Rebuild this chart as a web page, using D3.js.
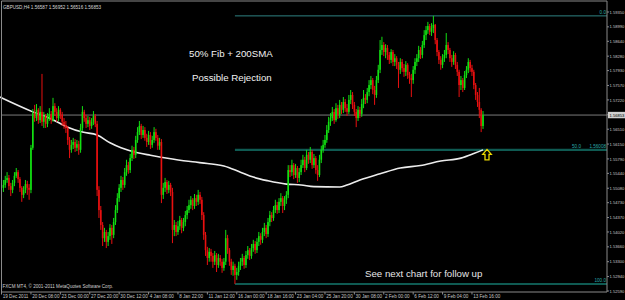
<!DOCTYPE html>
<html><head><meta charset="utf-8">
<script src="https://cdn.jsdelivr.net/npm/d3@7"></script>
<style>html,body{margin:0;padding:0;background:#000;overflow:hidden}</style>
</head><body>
<svg id="c" width="625" height="300"></svg>
<script>
// ---------- DATA ----------
const symbolTitle = "GBPUSD,H4";
const firstOpen = 1.5509;
const closes = [
1.5516,1.5528,1.5533,1.5513,1.5504,1.5521,1.5538,1.5547,1.5530,1.5509,
1.5492,1.5504,1.5518,1.5509,1.5504,1.5606,1.5690,1.5678,1.5698,1.5673,
1.5693,1.5669,1.5683,1.5664,1.5678,1.5688,1.5673,1.5707,1.5693,1.5678,
1.5698,1.5686,1.5669,1.5661,1.5654,1.5625,1.5601,1.5613,1.5620,1.5606,
1.5615,1.5601,1.5654,1.5693,1.5678,1.5664,1.5673,1.5659,1.5669,1.5683,
1.5664,1.5504,1.5455,1.5419,1.5387,1.5402,1.5378,1.5392,1.5412,1.5395,
1.5426,1.5455,1.5484,1.5509,1.5528,1.5516,1.5547,1.5564,1.5552,1.5581,
1.5601,1.5589,1.5625,1.5644,1.5659,1.5637,1.5649,1.5630,1.5620,1.5637,
1.5613,1.5625,1.5644,1.5630,1.5611,1.5620,1.5492,1.5509,1.5523,1.5504,
1.5516,1.5499,1.5407,1.5419,1.5402,1.5416,1.5431,1.5412,1.5426,1.5443,
1.5455,1.5467,1.5480,1.5465,1.5484,1.5475,1.5492,1.5480,1.5443,1.5395,
1.5358,1.5339,1.5354,1.5344,1.5330,1.5346,1.5322,1.5339,1.5330,1.5315,
1.5330,1.5387,1.5358,1.5330,1.5310,1.5320,1.5298,1.5305,1.5320,1.5330,
1.5339,1.5322,1.5346,1.5358,1.5344,1.5363,1.5373,1.5358,1.5378,1.5392,
1.5383,1.5402,1.5412,1.5397,1.5426,1.5443,1.5436,1.5455,1.5467,1.5455,
1.5475,1.5484,1.5465,1.5480,1.5492,1.5552,1.5547,1.5564,1.5540,1.5557,
1.5533,1.5547,1.5564,1.5577,1.5557,1.5589,1.5577,1.5596,1.5564,1.5581,
1.5552,1.5540,1.5577,1.5601,1.5613,1.5625,1.5649,1.5669,1.5678,1.5693,
1.5673,1.5702,1.5686,1.5710,1.5698,1.5717,1.5702,1.5693,1.5722,1.5734,
1.5710,1.5693,1.5678,1.5698,1.5688,1.5712,1.5727,1.5722,1.5741,1.5758,
1.5770,1.5746,1.5734,1.5770,1.5795,1.5843,1.5855,1.5838,1.5848,1.5831,
1.5819,1.5838,1.5814,1.5823,1.5807,1.5795,1.5814,1.5799,1.5790,1.5807,
1.5782,1.5775,1.5770,1.5795,1.5814,1.5823,1.5843,1.5831,1.5855,1.5879,
1.5891,1.5901,1.5887,1.5896,1.5904,1.5867,1.5838,1.5819,1.5807,1.5823,
1.5831,1.5855,1.5843,1.5823,1.5814,1.5831,1.5807,1.5790,1.5758,1.5770,
1.5751,1.5782,1.5795,1.5814,1.5799,1.5790,1.5758,1.5734,1.5717,1.5698,
1.56587,1.56853];
const highs = [
1.5528,1.5538,1.5547,1.5540,1.5521,1.5528,1.5547,1.5557,1.5552,1.5535,
1.5513,1.5513,1.5528,1.5526,1.5518,1.5613,1.5700,1.5710,1.5712,1.5702,
1.5707,1.5785,1.5693,1.5688,1.5690,1.5702,1.5695,1.5727,1.5714,1.5702,
1.5707,1.5702,1.5693,1.5678,1.5671,1.5659,1.5632,1.5625,1.5630,1.5627,
1.5625,1.5623,1.5664,1.5707,1.5698,1.5686,1.5683,1.5681,1.5678,1.5695,
1.5688,1.5671,1.5513,1.5465,1.5426,1.5412,1.5407,1.5402,1.5421,1.5419,
1.5436,1.5467,1.5496,1.5518,1.5538,1.5535,1.5557,1.5577,1.5572,1.5591,
1.5611,1.5608,1.5635,1.5656,1.5671,1.5664,1.5659,1.5656,1.5640,1.5647,
1.5644,1.5635,1.5656,1.5652,1.5637,1.5630,1.5627,1.5521,1.5533,1.5528,
1.5526,1.5521,1.5509,1.5431,1.5426,1.5429,1.5441,1.5436,1.5436,1.5453,
1.5465,1.5480,1.5489,1.5484,1.5494,1.5492,1.5504,1.5499,1.5487,1.5450,
1.5402,1.5366,1.5363,1.5361,1.5351,1.5356,1.5351,1.5349,1.5346,1.5337,
1.5339,1.5407,1.5395,1.5363,1.5337,1.5330,1.5325,1.5315,1.5330,1.5339,
1.5349,1.5344,1.5356,1.5368,1.5363,1.5373,1.5383,1.5380,1.5387,1.5402,
1.5399,1.5412,1.5424,1.5419,1.5436,1.5453,1.5450,1.5465,1.5480,1.5475,
1.5484,1.5496,1.5489,1.5489,1.5501,1.5564,1.5564,1.5577,1.5569,1.5567,
1.5562,1.5557,1.5577,1.5589,1.5584,1.5601,1.5596,1.5608,1.5601,1.5591,
1.5586,1.5564,1.5589,1.5611,1.5625,1.5637,1.5661,1.5681,1.5690,1.5705,
1.5700,1.5714,1.5710,1.5722,1.5717,1.5729,1.5724,1.5712,1.5734,1.5746,
1.5741,1.5717,1.5700,1.5707,1.5705,1.5724,1.5746,1.5736,1.5751,1.5770,
1.5780,1.5775,1.5756,1.5780,1.5807,1.5867,1.5875,1.5862,1.5857,1.5855,
1.5838,1.5845,1.5843,1.5833,1.5828,1.5814,1.5823,1.5821,1.5809,1.5816,
1.5811,1.5790,1.5785,1.5804,1.5823,1.5833,1.5853,1.5850,1.5865,1.5891,
1.5901,1.5911,1.5906,1.5908,1.59256,1.5906,1.5872,1.5843,1.5828,1.5833,
1.5843,1.5884,1.5862,1.5848,1.5831,1.5840,1.5836,1.5814,1.5795,1.5780,
1.5775,1.5792,1.5804,1.5823,1.5819,1.5807,1.5795,1.5763,1.5741,1.5751,
1.5702,1.56952];
const lows = [
1.5499,1.5509,1.5521,1.5504,1.5489,1.5496,1.5513,1.5533,1.5521,1.5499,
1.5475,1.5484,1.5496,1.5492,1.5480,1.5496,1.5601,1.5669,1.5671,1.5664,
1.5666,1.5659,1.5654,1.5654,1.5656,1.5671,1.5664,1.5669,1.5683,1.5669,
1.5671,1.5676,1.5659,1.5652,1.5642,1.5613,1.5581,1.5594,1.5603,1.5596,
1.5598,1.5589,1.5594,1.5647,1.5669,1.5654,1.5656,1.5649,1.5652,1.5661,
1.5656,1.5489,1.5436,1.5407,1.5368,1.5378,1.5363,1.5368,1.5383,1.5373,
1.5387,1.5419,1.5448,1.5475,1.5499,1.5504,1.5509,1.5538,1.5543,1.5545,
1.5574,1.5579,1.5581,1.5618,1.5637,1.5627,1.5630,1.5623,1.5608,1.5613,
1.5603,1.5606,1.5618,1.5623,1.5601,1.5601,1.5472,1.5482,1.5499,1.5494,
1.5496,1.5489,1.5375,1.5392,1.5392,1.5395,1.5407,1.5399,1.5404,1.5416,
1.5433,1.5448,1.5458,1.5455,1.5458,1.5465,1.5467,1.5470,1.5431,1.5383,
1.5344,1.5322,1.5330,1.5330,1.5315,1.5322,1.5305,1.5315,1.5320,1.5303,
1.5308,1.5322,1.5349,1.5320,1.5298,1.5296,1.52760,1.5286,1.5296,1.5310,
1.5320,1.5313,1.5315,1.5337,1.5334,1.5337,1.5354,1.5349,1.5351,1.5368,
1.5371,1.5375,1.5392,1.5387,1.5390,1.5416,1.5426,1.5429,1.5448,1.5446,
1.5448,1.5465,1.5448,1.5455,1.5470,1.5484,1.5535,1.5538,1.5530,1.5533,
1.5521,1.5523,1.5540,1.5557,1.5547,1.5552,1.5567,1.5569,1.5555,1.5557,
1.5543,1.5526,1.5535,1.5569,1.5594,1.5606,1.5618,1.5642,1.5659,1.5671,
1.5664,1.5669,1.5676,1.5678,1.5688,1.5690,1.5693,1.5683,1.5688,1.5712,
1.5700,1.5683,1.5656,1.5671,1.5678,1.5681,1.5702,1.5712,1.5714,1.5731,
1.5748,1.5736,1.5710,1.5727,1.5763,1.5787,1.5831,1.5828,1.5823,1.5819,
1.5809,1.5811,1.5804,1.5804,1.5797,1.5751,1.5785,1.5790,1.5778,1.5780,
1.5773,1.5761,1.5729,1.5761,1.5785,1.5804,1.5814,1.5821,1.5823,1.5848,
1.5867,1.5882,1.5879,1.5877,1.5884,1.5857,1.5828,1.5809,1.5795,1.5799,
1.5814,1.5823,1.5833,1.5814,1.5802,1.5807,1.5797,1.5780,1.5729,1.5746,
1.5741,1.5746,1.5775,1.5787,1.5790,1.5780,1.5748,1.5722,1.5705,1.5678,
1.5644,1.56516];

// 200 SMA, read at sample bars
const smaBars   = [-2,16,26,35,43,51,58,64,73,80,92,103,111,120,129,136,144,154,162,169,183,187,194,205,216,227,238,249,256,261];
const smaValues = [1.5729,1.5693,1.5676,1.5656,1.5644,1.5637,1.5618,1.5606,1.5594,1.5588,1.5579,1.5572,1.5568,1.5562,1.5547,1.5535,1.5526,1.5518,1.5516,1.5512,1.5511,1.5516,1.5528,1.5543,1.5557,1.5563,1.5574,1.5581,1.5592,1.5601];

// Fibonacci retracement anchors (bar index of low and high)
const fibLowBar = 126, fibHighBar = 234;
const fibLevels = [0, 50, 100];

const yTickLabels = ["1.59350","1.58990","1.58640","1.58280","1.57930","1.57570","1.57220","1.56860","1.56510","1.56150",
  "1.55790","1.55440","1.55080","1.54730","1.54370","1.54020","1.53660","1.53300","1.52940","1.52590"];
const xTickLabels = ["19 Dec 2011","20 Dec 08:00","23 Dec 00:00","27 Dec 20:00","30 Dec 12:00","4 Jan 08:00","8 Jan 22:00",
  "11 Jan 12:00","16 Jan 00:00","18 Jan 16:00","23 Jan 04:00","25 Jan 20:00","30 Jan 08:00","2 Feb 00:00","6 Feb 12:00","9 Feb 04:00","13 Feb 16:00"];
const xTickBars = [0,15,31,47,63,79,95,111,127,143,159,175,191,207,223,239,255];

const notes = ["50% Fib + 200SMA","Possible Rejection","See next chart for follow up"];
const copyright = "FXCM MT4, \u00A9 2001-2011 MetaQuotes Software Corp.";

// ---------- DRAW ----------
const svg = d3.select('#c');
const N = closes.length;
const opens = closes.map((c,i)=> i===0 ? firstOpen : closes[i-1]);
const bars = d3.range(N).map(i=>({i, o:opens[i], h:highs[i], l:lows[i], c:closes[i]}));

const frame = {l:1.5, r:607, t:1, b:292};
const x = d3.scaleLinear().domain([0, N-1]).range([3.4, 483]);
const y = d3.scaleLinear().domain([1.52590, 1.59350]).range([291, 12]);

const small = "'Liberation Sans', Arial, sans-serif";
const axisCol = "#c8c8c8";
const bull = "#12e012", bear = "#e81010";

svg.append('rect').attr('width',625).attr('height',300).attr('fill','#000');

svg.append('defs').append('clipPath').attr('id','plot')
  .append('rect').attr('x',0).attr('y',frame.t).attr('width',frame.r).attr('height',frame.b-frame.t);

const plot = svg.append('g').attr('clip-path','url(#plot)');

// bid line
const last = bars[N-1];
plot.append('line').attr('x1',frame.l).attr('x2',frame.r)
  .attr('y1',y(last.c)).attr('y2',y(last.c)).attr('stroke','#7a7a7a').attr('stroke-width',1);

// fib lines
const fibHigh = highs[fibHighBar], fibLow = lows[fibLowBar];
const fibPrice = lv => fibHigh - (fibHigh - fibLow) * lv / 100;
const fibG = plot.append('g');
fibLevels.forEach(lv=>{
  fibG.append('line').attr('x1',x(fibLowBar)).attr('x2',frame.r)
    .attr('y1',y(fibPrice(lv))).attr('y2',y(fibPrice(lv)))
    .attr('stroke', lv===0 ? '#2f8282' : '#0f5a52')
    .attr('stroke-width', lv===0 ? 1 : 2.2);
});

// SMA
plot.append('path').datum(smaBars.map((b,k)=>[b,smaValues[k]]))
  .attr('d', d3.line().x(d=>x(d[0])).y(d=>y(d[1])).curve(d3.curveMonotoneX))
  .attr('fill','none').attr('stroke','#ececec').attr('stroke-width',1.6);

// candles
const cg = plot.append('g');
cg.selectAll('line').data(bars).join('line')
  .attr('x1',d=>x(d.i)).attr('x2',d=>x(d.i))
  .attr('y1',d=>y(d.h)).attr('y2',d=>y(d.l))
  .attr('stroke',d=>d.c>=d.o?bull:bear).attr('stroke-width',1);
cg.selectAll('rect').data(bars).join('rect')
  .attr('x',d=>x(d.i)-0.8).attr('width',1.6)
  .attr('y',d=>y(Math.max(d.o,d.c)))
  .attr('height',d=>Math.max(1,Math.abs(y(d.o)-y(d.c))))
  .attr('fill',d=>d.c>=d.o?bull:bear);

// fib labels
const fibCol = '#2aa8a8';
fibLevels.forEach(lv=>{
  const yy = y(fibPrice(lv)) - 1.6;
  if (lv===50) {
    svg.append('text').attr('x',581).attr('y',yy).attr('text-anchor','end')
      .attr('font-family',small).attr('font-size',4.6).attr('fill',fibCol).text(lv.toFixed(1));
    svg.append('text').attr('x',606).attr('y',yy).attr('text-anchor','end')
      .attr('font-family',small).attr('font-size',4.6).attr('fill',fibCol).text(fibPrice(lv).toFixed(5));
  } else {
    svg.append('text').attr('x',606).attr('y',yy).attr('text-anchor','end')
      .attr('font-family',small).attr('font-size',4.6).attr('fill',fibCol).text(lv.toFixed(1));
  }
});

// yellow arrow at SMA / 50% level
const ax = x(N-1)+4, ay = y(fibPrice(50)) - 0.5;
svg.append('path')
  .attr('d',`M${ax},${ay} L${ax+4.3},${ay+5} L${ax+2},${ay+5} L${ax+2},${ay+10.5} L${ax-2},${ay+10.5} L${ax-2},${ay+5} L${ax-4.3},${ay+5} Z`)
  .attr('fill','#000').attr('stroke','#ecd800').attr('stroke-width',1.3).attr('stroke-linejoin','miter');

// annotations
const big = "'Liberation Sans', Arial, sans-serif";
svg.append('text').attr('x',189).attr('y',56.5).attr('font-family',big).attr('font-size',9.7).attr('fill','#f2f2f2').text(notes[0]);
svg.append('text').attr('x',192).attr('y',81).attr('font-family',big).attr('font-size',9.7).attr('fill','#f2f2f2').text(notes[1]);
svg.append('text').attr('x',365).attr('y',276.5).attr('font-family',big).attr('font-size',9.7).attr('fill','#e6e6e6').text(notes[2]);

// title
svg.append('text').attr('x',3).attr('y',8.6).attr('font-family',small).attr('font-size',4.6).attr('fill','#d8d8d8')
  .text(`${symbolTitle} ${last.o.toFixed(5)} ${last.h.toFixed(5)} ${last.l.toFixed(5)} ${last.c.toFixed(5)}`);
svg.append('text').attr('x',2.5).attr('y',288.3).attr('font-family',small).attr('font-size',4.6).attr('fill','#cfcfcf').text(copyright);

// frame
svg.append('line').attr('x1',frame.l).attr('x2',frame.l).attr('y1',frame.t).attr('y2',frame.b).attr('stroke','#8a8a8a');
svg.append('line').attr('x1',frame.r).attr('x2',frame.r).attr('y1',frame.t).attr('y2',frame.b).attr('stroke','#8a8a8a');
svg.append('line').attr('x1',frame.l).attr('x2',frame.r).attr('y1',frame.t).attr('y2',frame.t).attr('stroke','#8a8a8a');
svg.append('line').attr('x1',frame.l).attr('x2',frame.r).attr('y1',frame.b).attr('y2',frame.b).attr('stroke','#8a8a8a');

// right price axis (labels fitted inside the 625px width)
const ya = svg.append('g');
yTickLabels.forEach(t=>{
  const yy = y(+t);
  ya.append('line').attr('x1',frame.r).attr('x2',frame.r+2).attr('y1',yy).attr('y2',yy).attr('stroke','#8a8a8a');
  ya.append('text').attr('x',609.5).attr('y',yy+1.6).attr('font-family',small).attr('font-size',4.3)
    .attr('textLength',14.8).attr('lengthAdjust','spacingAndGlyphs').attr('fill',axisCol).text(t);
});

// current price box
const cy = y(last.c);
svg.append('rect').attr('x',608).attr('y',cy-3.2).attr('width',17).attr('height',6.4).attr('fill','#d0d0d0');
svg.append('text').attr('x',609.5).attr('y',cy+1.6).attr('font-family',small).attr('font-size',4.3)
  .attr('textLength',14.8).attr('lengthAdjust','spacingAndGlyphs').attr('fill','#000').text(last.c.toFixed(5));

// bottom time axis
const xa = svg.append('g');
xTickLabels.forEach((t,k)=>{
  const xx = k===0 ? frame.l : x(xTickBars[k]);
  xa.append('line').attr('x1',xx).attr('x2',xx).attr('y1',frame.b).attr('y2',frame.b+2.5).attr('stroke','#8a8a8a');
  xa.append('text').attr('x',xx+1.2).attr('y',297.6).attr('font-family',small).attr('font-size',4.6).attr('fill',axisCol).text(t);
});
</script>
</body></html>
